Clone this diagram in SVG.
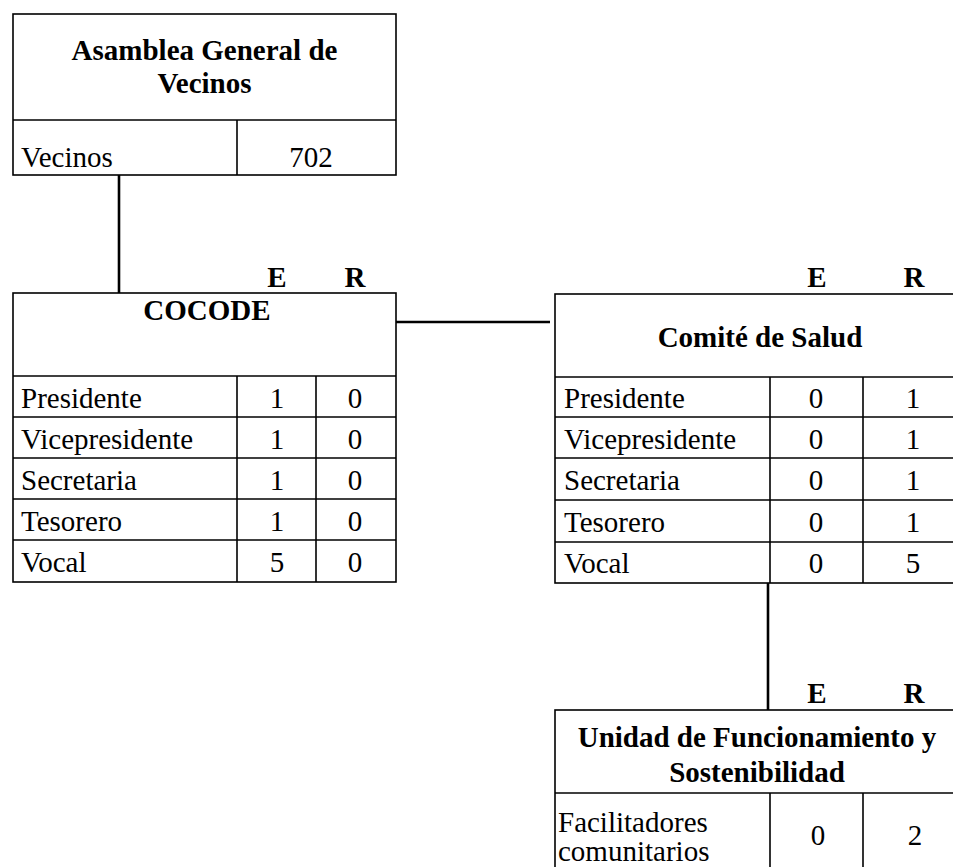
<svg xmlns="http://www.w3.org/2000/svg" width="953" height="867" viewBox="0 0 953 867">
<style>
text{font-family:"Liberation Serif","Tinos","Times New Roman","DejaVu Serif","Noto Serif",serif;font-size:29px;fill:#000}
.b{font-weight:bold}
.m{text-anchor:middle}
.box{fill:#fff;stroke:#000;stroke-width:1.6}
.ln{stroke:#000;stroke-width:1.6;fill:none}
.con{stroke:#000;stroke-width:2.6;fill:none}
</style>
<rect width="953" height="867" fill="#fff"/>
<g id="connectors">
<line class="con" x1="119" y1="175" x2="119" y2="293"/>
<line class="con" x1="396" y1="322" x2="550" y2="322"/>
<line class="con" x1="768" y1="583" x2="768" y2="710"/>
</g>
<g id="asamblea">
<rect class="box" x="13" y="14" width="383" height="161"/>
<line class="ln" x1="13" y1="120" x2="396" y2="120"/>
<line class="ln" x1="237" y1="120" x2="237" y2="175"/>
<text class="b m" x="204.5" y="60">Asamblea General de</text>
<text class="b m" x="204.5" y="93">Vecinos</text>
<text x="21" y="167">Vecinos</text>
<text class="m" x="311" y="167">702</text>
</g>
<g id="cocode">
<text class="b m" x="277" y="287">E</text>
<text class="b m" x="355" y="287">R</text>
<rect class="box" x="13" y="293" width="383" height="289"/>
<line class="ln" x1="13" y1="376" x2="396" y2="376"/>
<line class="ln" x1="13" y1="417" x2="396" y2="417"/>
<line class="ln" x1="13" y1="458" x2="396" y2="458"/>
<line class="ln" x1="13" y1="499" x2="396" y2="499"/>
<line class="ln" x1="13" y1="540" x2="396" y2="540"/>
<line class="ln" x1="237" y1="376" x2="237" y2="582"/>
<line class="ln" x1="316" y1="376" x2="316" y2="582"/>
<text class="b m" x="207" y="320">COCODE</text>
<text x="21" y="408">Presidente</text>
<text x="21" y="449">Vicepresidente</text>
<text x="21" y="490">Secretaria</text>
<text x="21" y="531">Tesorero</text>
<text x="21" y="572">Vocal</text>
<text class="m" x="277" y="408">1</text>
<text class="m" x="277" y="449">1</text>
<text class="m" x="277" y="490">1</text>
<text class="m" x="277" y="531">1</text>
<text class="m" x="277" y="572">5</text>
<text class="m" x="355" y="408">0</text>
<text class="m" x="355" y="449">0</text>
<text class="m" x="355" y="490">0</text>
<text class="m" x="355" y="531">0</text>
<text class="m" x="355" y="572">0</text>
</g>
<g id="comite">
<text class="b m" x="817" y="287">E</text>
<text class="b m" x="914" y="287">R</text>
<rect class="box" x="555" y="294" width="408" height="289"/>
<line class="ln" x1="555" y1="377" x2="963" y2="377"/>
<line class="ln" x1="555" y1="417" x2="963" y2="417"/>
<line class="ln" x1="555" y1="458" x2="963" y2="458"/>
<line class="ln" x1="555" y1="500" x2="963" y2="500"/>
<line class="ln" x1="555" y1="542" x2="963" y2="542"/>
<line class="ln" x1="770" y1="377" x2="770" y2="583"/>
<line class="ln" x1="863" y1="377" x2="863" y2="583"/>
<text class="b m" x="760" y="347">Comité de Salud</text>
<text x="564" y="408">Presidente</text>
<text x="564" y="449">Vicepresidente</text>
<text x="564" y="490">Secretaria</text>
<text x="564" y="532">Tesorero</text>
<text x="564" y="573">Vocal</text>
<text class="m" x="816" y="408">0</text>
<text class="m" x="816" y="449">0</text>
<text class="m" x="816" y="490">0</text>
<text class="m" x="816" y="532">0</text>
<text class="m" x="816" y="573">0</text>
<text class="m" x="913" y="408">1</text>
<text class="m" x="913" y="449">1</text>
<text class="m" x="913" y="490">1</text>
<text class="m" x="913" y="532">1</text>
<text class="m" x="913" y="573">5</text>
</g>
<g id="unidad">
<text class="b m" x="817" y="703">E</text>
<text class="b m" x="914" y="703">R</text>
<rect class="box" x="555" y="710" width="408" height="170"/>
<line class="ln" x1="555" y1="793" x2="963" y2="793"/>
<line class="ln" x1="770" y1="793" x2="770" y2="880"/>
<line class="ln" x1="863" y1="793" x2="863" y2="880"/>
<text class="b m" x="757" y="747">Unidad de Funcionamiento y</text>
<text class="b m" x="757" y="782">Sostenibilidad</text>
<text x="558" y="832">Facilitadores</text>
<text x="558" y="861">comunitarios</text>
<text class="m" x="818" y="845">0</text>
<text class="m" x="915" y="845">2</text>
</g>
</svg>
